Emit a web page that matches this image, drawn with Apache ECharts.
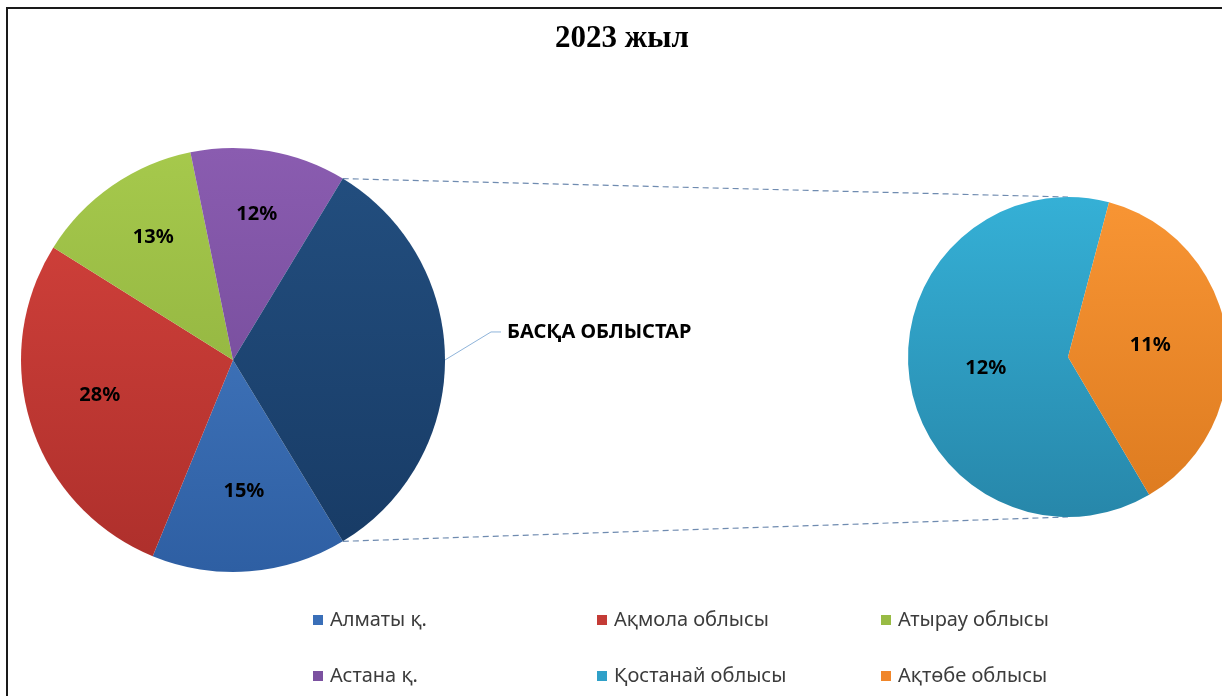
<!DOCTYPE html>
<html><head><meta charset="utf-8">
<script src="https://cdn.jsdelivr.net/npm/echarts@6/dist/echarts.min.js"></script>
<style>html,body{margin:0;padding:0;background:#fff}#c{width:1222px;height:696px}</style>
</head><body><div id="c"></div>
<script>
const chartTitle = '2023 жыл';
const mainCategories = ['Алматы қ.', 'Ақмола облысы', 'Атырау облысы', 'Астана қ.', 'БАСҚА ОБЛЫСТАР'];
const mainValues = [15, 28, 13, 12, 33];
const subCategories = ['Қостанай облысы', 'Ақтөбе облысы'];
const subShares = [62.6, 37.4];
const subLabels = ['12%', '11%'];
const legendRow1 = ['Алматы қ.', 'Ақмола облысы', 'Атырау облысы'];
const legendRow2 = ['Астана қ.', 'Қостанай облысы', 'Ақтөбе облысы'];

// styles
const palette = {
  'Алматы қ.': ['#4a80c8', '#2e5fa3'],
  'Ақмола облысы': ['#d6433d', '#ad2f2b'],
  'Атырау облысы': ['#a6c94c', '#87a83a'],
  'Астана қ.': ['#8a5cb0', '#6b4590'],
  'БАСҚА ОБЛЫСТАР': ['#234f80', '#173a64'],
  'Қостанай облысы': ['#35b0d6', '#2787aa'],
  'Ақтөбе облысы': ['#f89534', '#dc7a1f']
};
const flat = {
  'Алматы қ.': '#3a6fb8', 'Ақмола облысы': '#c43b36', 'Атырау облысы': '#98bb44',
  'Астана қ.': '#7b51a0', 'Қостанай облысы': '#2fa0c8', 'Ақтөбе облысы': '#f0862a'
};
const LC = [233, 360], LR = 212;
const RC = [1068, 357], RR = 160;
const leftStartCw = 148.8;   // clockwise degrees from 12 o'clock
const rightStartCw = 149.5;
const otherIdx = mainCategories.length - 1;

const total = mainValues.reduce((a, b) => a + b, 0);
let acc = leftStartCw;
const leftMid = mainValues.map(v => { const a = v / total * 360; const m = acc + a / 2; acc += a; return m; });
const otherStart = leftStartCw + 360 * (total - mainValues[otherIdx]) / total;
const otherEnd = leftStartCw + 360;
const rad = d => d * Math.PI / 180;
const edge = (c, r, d) => [c[0] + r * Math.sin(rad(d)), c[1] - r * Math.cos(rad(d))];

function grad(name, c, r) {
  const g = palette[name];
  return new echarts.graphic.LinearGradient(0, c[1] - r, 0, c[1] + r,
    [{offset: 0, color: g[0]}, {offset: 1, color: g[1]}], true);
}

const labelFont = {fontFamily: 'Noto Sans', fontWeight: 'bold', fontSize: 20, color: '#000'};

const mainData = mainCategories.map((n, i) => {
  const d = {name: n, value: mainValues[i], itemStyle: {color: grad(n, LC, LR)}};
  if (i === otherIdx) {
    d.label = {position: 'outside', formatter: n, ...labelFont};
    d.labelLine = {show: true, lineStyle: {color: '#8fb4da', width: 1}};
  }
  return d;
});
const subData = subCategories.map((n, i) => ({name: n, value: subShares[i], itemStyle: {color: grad(n, RC, RR)}}));

const t1 = edge(LC, LR, otherStart), t2 = edge(LC, LR, otherEnd);
const r1 = [RC[0], RC[1] - RR], r2 = [RC[0], RC[1] + RR];

const legendBase = {
  orient: 'horizontal', left: 313, itemGap: 0, itemWidth: 10, itemHeight: 10, icon: 'rect',
  padding: 0,
  textStyle: {fontFamily: 'Noto Sans', fontSize: 20, color: '#3c3c3c', width: 267, padding: [0, 0, 0, 2], lineHeight: 24},
  selectedMode: false
};

const chart = echarts.init(document.getElementById('c'), null, {renderer: 'canvas'});
chart.setOption({
  animation: false,
  backgroundColor: '#fff',
  title: {text: chartTitle, left: 555, top: 23, padding: 0,
    textStyle: {fontFamily: 'Liberation Serif', fontWeight: 'bold', fontSize: 31, color: '#000'}},
  legend: [
    Object.assign({}, legendBase, {top: 608, data: legendRow1.map(n => ({name: n, itemStyle: {color: flat[n]}}))}),
    Object.assign({}, legendBase, {top: 664, data: legendRow2.map(n => ({name: n, itemStyle: {color: flat[n]}}))})
  ],
  graphic: [
    {type: 'rect', shape: {x: 7, y: 8, width: 1400, height: 900}, style: {fill: null, stroke: '#1a1a1a', lineWidth: 2}, z: 100},
    {type: 'line', shape: {x1: t1[0], y1: t1[1], x2: r1[0], y2: r1[1]}, style: {stroke: '#6f8bb0', lineWidth: 1.2, lineDash: [6, 4]}, z: 1},
    {type: 'line', shape: {x1: t2[0], y1: t2[1], x2: r2[0], y2: r2[1]}, style: {stroke: '#6f8bb0', lineWidth: 1.2, lineDash: [6, 4]}, z: 1}
  ],
  series: [
    {
      type: 'pie', center: LC, radius: LR, startAngle: 90 - leftStartCw, clockwise: true,
      avoidLabelOverlap: false, silent: true,
      itemStyle: {borderWidth: 0},
      label: {position: 'inside', formatter: p => p.value + '%', ...labelFont},
      labelLine: {show: false},
      labelLayout: p => {
        const i = p.dataIndex;
        const m = rad(leftMid[i]);
        if (i === otherIdx) {
          const ex = LC[0] + LR * Math.sin(m), ey = LC[1] - LR * Math.cos(m);
          const bx = ex + 46, by = ey - 28;
          return {x: bx + 16, y: by, align: 'left', verticalAlign: 'middle',
            labelLinePoints: [[ex, ey], [bx, by], [bx + 10, by]]};
        }
        return {x: LC[0] + Math.sin(m) * LR * 0.66, y: LC[1] - Math.cos(m) * LR * 0.66 - 8,
          align: 'center', verticalAlign: 'middle'};
      },
      data: mainData
    },
    {
      type: 'pie', center: RC, radius: RR, startAngle: 90 - rightStartCw, clockwise: true,
      avoidLabelOverlap: false, silent: true,
      itemStyle: {borderWidth: 0},
      label: {position: 'inside', formatter: p => subLabels[p.dataIndex], ...labelFont},
      labelLine: {show: false},
      data: subData
    }
  ]
});
</script></body></html>
